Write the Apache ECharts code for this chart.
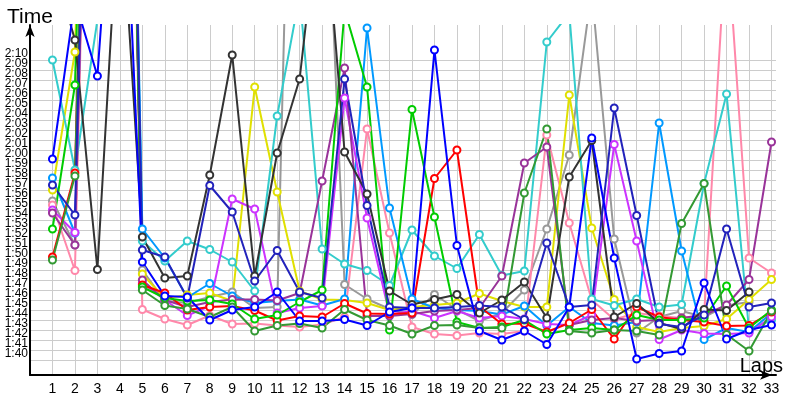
<!DOCTYPE html>
<html><head><meta charset="utf-8">
<script src="https://cdn.jsdelivr.net/npm/echarts@6/dist/echarts.min.js"></script>
<style>html,body{margin:0;padding:0;background:#fff}#c{width:800px;height:400px}</style>
</head><body><div id="c"></div>
<script>
// Laps (x categories) and lap-time tick values (seconds)
const laps = [1,2,3,4,5,6,7,8,9,10,11,12,13,14,15,16,17,18,19,20,21,22,23,24,25,26,27,28,29,30,31,32,33];
const yTickSeconds = [100,101,102,103,104,105,106,107,108,109,110,111,112,113,114,115,116,117,118,119,120,121,122,123,124,125,126,127,128,129,130];

// Lap times in seconds, one array per driver (null = no lap)
const cyan    = [130.0,119.0,134,220,111.9,109.9,111.9,111.05,109.8,106.9,124.4,136.5,111.1,109.6,108.95,107.45,113.0,110.4,109.15,112.55,108.45,108.9,131.8,134.7,106.1,105.45,106.1,105.3,105.55,117.65,126.6,103.0,104.0];
const blue    = [120.1,136,128.4,160,109.8,106.4,106.3,104.0,105.0,105.3,106.8,103.9,103.9,104.05,103.45,104.8,105.2,131.0,111.45,102.9,102.0,102.9,101.55,105.3,122.2,110.2,100.1,100.65,100.9,107.7,102.1,103.0,103.5];
const navy    = [117.5,114.5,200,220,111.0,110.3,106.2,117.45,114.8,107.9,110.95,106.8,106.2,128.1,115.45,105.3,105.2,105.2,105.3,105.45,105.3,104.05,111.7,105.3,105.5,125.2,114.45,103.6,103.3,104.5,113.1,105.3,105.7];
const lightBlue = [118.2,112.7,200,220,113.1,110.2,106.25,107.65,106.4,105.7,105.9,106.05,105.45,106.1,133.2,115.2,106.1,105.2,105.0,104.9,104.55,105.4,103.45,105.3,103.7,103.45,103.8,123.7,110.9,102.05,103.2,102.8,104.7];
const yellow  = [117.0,130.8,200,220,108.6,106.15,106.5,106.7,105.9,127.3,116.8,106.9,106.05,106.0,105.7,105.0,105.3,105.5,105.7,106.65,105.9,105.3,105.3,126.5,113.2,106.05,103.3,102.8,103.2,103.4,104.1,106.05,108.05];
const gray    = [115.9,111.5,200,220,109.0,105.9,105.7,106.3,106.8,105.2,105.3,195,160,107.55,106.1,105.1,104.55,106.55,105.05,103.9,104.7,107.0,113.1,120.5,137,112.1,102.7,104.3,104.9,104.3,105.45,105.8,null];
const black   = [140,132.0,109.05,148,112.3,108.2,108.4,118.5,130.5,108.4,120.7,128.1,148,120.8,116.6,106.9,105.55,106.05,106.55,104.7,106.0,107.8,104.2,118.3,121.95,104.3,105.65,103.7,103.1,105.05,104.95,106.8,null];
const pink    = [115.5,108.95,200,220,105.05,104.1,103.5,104.45,103.6,103.65,103.45,103.3,103.55,104.3,123.1,112.7,103.3,102.6,102.45,102.7,102.6,102.9,122.5,113.7,106.0,104.05,104.7,104.4,104.2,104.5,143,110.2,108.7];
const violet  = [115.0,112.75,200,220,107.7,106.0,104.45,105.4,116.1,115.1,104.7,105.2,105.4,126.2,114.2,104.55,104.9,104.2,104.9,104.2,104.4,104.1,103.6,103.5,104.5,121.55,111.9,102.05,103.0,102.65,102.6,102.7,104.3];
const purple  = [114.7,111.5,200,220,108.0,106.0,105.3,105.8,106.05,106.05,105.95,106.7,117.9,129.2,104.4,104.4,104.6,104.9,105.0,105.2,108.4,119.7,121.3,103.5,104.0,104.2,103.9,104.0,104.2,104.5,105.5,108.05,121.8];
const green   = [113.1,127.5,200,220,107.3,106.2,105.9,106.0,105.6,104.1,104.5,105.8,107.0,135,127.3,103.0,125.05,114.3,103.8,103.2,103.3,104.0,102.6,103.0,103.2,103.0,104.5,104.0,104.0,104.2,107.4,103.2,105.0];
const darkGreen = [110.0,118.4,200,220,107.0,105.45,105.1,104.3,105.3,102.9,103.45,103.65,103.2,105.05,104.0,103.45,102.6,103.45,103.5,103.2,103.2,116.7,123.1,102.9,102.7,103.0,102.9,102.5,113.65,117.65,102.55,100.9,104.9];
const red     = [110.3,118.7,200,220,107.5,106.7,105.0,105.3,105.4,104.95,103.95,104.4,104.3,105.65,104.65,104.6,104.7,118.15,121.0,105.35,103.6,103.65,102.8,103.7,105.05,102.1,105.3,104.3,104.0,103.8,103.4,103.45,104.8];

const seriesDefs = [
  ['Gray', gray, '#999999'],
  ['Pink', pink, '#ff88aa'],
  ['Yellow', yellow, '#e0e000'],
  ['Cyan', cyan, '#33cccc'],
  ['Light blue', lightBlue, '#0099ff'],
  ['Violet', violet, '#cc33ff'],
  ['Purple', purple, '#993399'],
  ['Red', red, '#ff0000'],
  ['Green', green, '#00cc00'],
  ['Dark green', darkGreen, '#339933'],
  ['Black', black, '#333333'],
  ['Navy', navy, '#2222bb'],
  ['Blue', blue, '#0000ff']
];

function fmt(s){
  if (s < yTickSeconds[0] || s > yTickSeconds[yTickSeconds.length-1]) return '';
  const m=Math.floor(s/60); const r=Math.round(s-m*60); return m+':'+(r<10?'0':'')+r;
}
// blank guard labels just outside the labelled range (absorb ECharts' end-label overlap hiding)
const yLabelSeconds = [yTickSeconds[0]-1].concat(yTickSeconds, [yTickSeconds[yTickSeconds.length-1]+1]);

const chart = echarts.init(document.getElementById('c'), null, {renderer:'canvas'});
chart.setOption({
  animation:false,
  backgroundColor:'#fff',
  grid:{left:30,right:24,top:25,bottom:25,outerBoundsMode:'none'},
  xAxis:{
    type:'value', min:0, max:33.2, interval:1,
    name:'Laps', nameLocation:'end', nameGap:7,
    nameTextStyle:{align:'right', verticalAlign:'bottom', fontSize:20, fontFamily:'Liberation Sans', color:'#000', padding:[0,0,-1,0]},
    axisLine:{show:true, lineStyle:{color:'#000', width:2}, symbol:['none','arrow'], symbolSize:[7,12], symbolOffset:[0,-4]},
    axisTick:{show:false, customValues:laps},
    axisLabel:{customValues:laps, showMinLabel:true, showMaxLabel:true, color:'#000', fontSize:14, fontFamily:'Liberation Sans', margin:7},
    splitLine:{show:true, lineStyle:{color:'#cccccc', width:1}}
  },
  yAxis:{
    type:'value', min:98.5, max:133.5, interval:1,
    name:'Time', nameLocation:'end', nameGap:-3,
    nameTextStyle:{fontSize:21, fontFamily:'Liberation Sans', color:'#000', align:'center', verticalAlign:'bottom'},
    axisLine:{show:true, lineStyle:{color:'#000', width:2}, symbol:['none','arrow'], symbolSize:[7,12]},
    axisTick:{show:false, customValues:yTickSeconds},
    axisLabel:{customValues:yLabelSeconds, formatter:fmt, color:'#000', fontSize:12, fontFamily:'Liberation Sans', margin:2, verticalAlign:'bottom'},
    splitLine:{show:true, lineStyle:{color:'#cccccc', width:1}}
  },
  series: seriesDefs.map(([name, vals, color]) => ({
    name, type:'line', clip:true,
    data: laps.map((l,i)=>[l, vals[i]]),
    connectNulls:false,
    symbol:'emptyCircle', symbolSize:7,
    lineStyle:{color, width:2},
    itemStyle:{color, borderColor:color, borderWidth:1.5},
    emphasis:{disabled:true}
  }))
});
</script></body></html>
